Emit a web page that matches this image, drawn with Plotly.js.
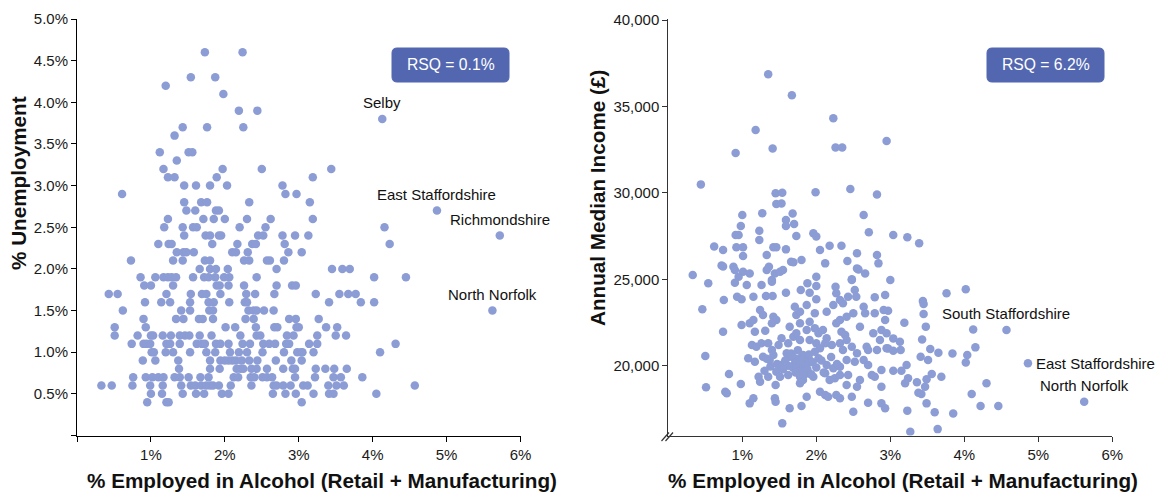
<!DOCTYPE html>
<html><head><meta charset="utf-8">
<script src="https://cdn.plot.ly/plotly-3.0.1.min.js"></script>
<style>html,body{margin:0;padding:0;background:#fff}#chart{width:1165px;height:494px}</style>
</head><body><div id="chart"></div>
<script>
// ---------- DATA ----------
// Left chart: % employed in alcohol (x) vs % unemployment (y)
const unempX = [
1.73,2.24, 1.54,1.87, 1.20, 1.98, 2.19,2.44, 1.43,1.76,2.25, 1.32, 1.12,1.51,1.56, 1.35,
1.17,1.97,2.50,3.44, 1.23,1.32,1.89,3.19, 1.45,1.61,1.80,2.03,2.78, 0.61,2.82,2.97,
1.45,1.68,1.76,2.33,3.15, 1.48,1.60,1.88,1.92,
1.23,1.71,1.85,2.00,2.30,2.62,3.19,
1.18,1.43,1.57,1.62,2.20,2.55,4.16,
1.45,1.74,1.80,1.92,1.95,2.45,2.52,2.78,2.95,3.13,
1.10,1.24,1.28,1.83,2.17,2.37,2.42,2.81,4.23,
1.35,1.44,1.48,1.58,2.10,2.15,2.31,2.86,3.04,
0.73,1.30,1.43,1.73,1.80,2.26,2.33,2.57,2.61,2.80,
1.66,1.80,1.88,2.04,2.70,3.45,3.59,3.69,
0.86,1.06,1.17,1.23,1.28,1.34,1.57,1.72,1.78,1.87,1.99,2.06,2.43,4.02,4.45,
0.91,1.00,1.30,1.89,1.93,2.05,2.26,2.70,2.91,2.96,
0.43,0.55,1.21,1.54,1.69,1.75,1.94,2.29,2.41,2.67,3.23,3.55,3.67,3.77,
0.92,1.14,1.26,1.53,1.78,1.85,2.06,2.27,2.30,3.41,3.84,4.02,
0.62,1.41,1.53,1.79,1.84,2.32,2.39,2.43,2.53,2.66,
0.90,1.34,1.44,1.65,1.70,1.84,2.28,2.39,2.87,2.96,3.27,
0.51,0.93,2.01,2.14,2.42,2.67,2.71,2.97,3.00,3.37,3.52,
0.51,0.82,1.00,1.03,1.16,1.27,1.39,1.46,1.52,1.66,1.82,2.21,2.43,2.48,2.84,2.93,3.25,3.50,3.64,
0.74,0.90,0.94,0.99,1.21,1.26,1.39,1.62,1.69,1.73,1.88,1.94,2.05,2.24,2.34,2.52,2.60,2.68,2.83,2.87,3.14,3.25,4.31,
1.01,1.04,1.20,1.30,1.53,1.75,1.87,2.07,2.19,2.30,2.51,2.80,2.98,3.03,3.05,3.20,4.10,
0.89,1.06,1.37,1.80,1.94,2.00,2.05,2.10,2.15,2.23,2.33,2.44,2.69,2.90,3.04,
1.38,1.80,1.93,2.16,2.21,2.25,2.36,2.43,2.57,2.79,2.92,2.95,3.23,3.36,3.48,3.65,
0.76,0.93,1.02,1.10,1.17,1.32,1.39,1.51,1.67,1.78,2.12,2.18,2.35,2.40,2.51,2.57,2.64,2.95,3.22,3.47,3.57,3.86,
0.33,0.47,0.75,0.99,1.16,1.41,1.54,1.60,1.68,1.75,1.80,1.84,1.92,2.08,2.36,2.66,2.70,2.79,2.89,3.06,3.12,3.40,3.51,3.61,4.57,
1.00,1.15,1.43,1.61,1.72,1.96,2.05,2.65,2.82,2.96,3.20,3.41,3.47,4.05,
0.95,1.21,1.24,3.04
];
const unempY = [
4.6,4.6, 4.3,4.3, 4.2, 4.1, 3.9,3.9, 3.7,3.7,3.7, 3.6, 3.4,3.4,3.4, 3.3,
3.2,3.2,3.2,3.2, 3.1,3.1,3.1,3.1, 3.0,3.0,3.0,3.0,3.0, 2.9,2.9,2.9,
2.8,2.8,2.8,2.8,2.8, 2.7,2.7,2.7,2.7,
2.6,2.6,2.6,2.6,2.6,2.6,2.6,
2.5,2.5,2.5,2.5,2.5,2.5,2.5,
2.4,2.4,2.4,2.4,2.4,2.4,2.4,2.4,2.4,2.4,
2.3,2.3,2.3,2.3,2.3,2.3,2.3,2.3,2.3,
2.2,2.2,2.2,2.2,2.2,2.2,2.2,2.2,2.2,
2.1,2.1,2.1,2.1,2.1,2.1,2.1,2.1,2.1,2.1,
2.0,2.0,2.0,2.0,2.0,2.0,2.0,2.0,
1.9,1.9,1.9,1.9,1.9,1.9,1.9,1.9,1.9,1.9,1.9,1.9,1.9,1.9,1.9,
1.8,1.8,1.8,1.8,1.8,1.8,1.8,1.8,1.8,1.8,
1.7,1.7,1.7,1.7,1.7,1.7,1.7,1.7,1.7,1.7,1.7,1.7,1.7,1.7,
1.6,1.6,1.6,1.6,1.6,1.6,1.6,1.6,1.6,1.6,1.6,1.6,
1.5,1.5,1.5,1.5,1.5,1.5,1.5,1.5,1.5,1.5,
1.4,1.4,1.4,1.4,1.4,1.4,1.4,1.4,1.4,1.4,1.4,
1.3,1.3,1.3,1.3,1.3,1.3,1.3,1.3,1.3,1.3,1.3,
1.2,1.2,1.2,1.2,1.2,1.2,1.2,1.2,1.2,1.2,1.2,1.2,1.2,1.2,1.2,1.2,1.2,1.2,1.2,
1.1,1.1,1.1,1.1,1.1,1.1,1.1,1.1,1.1,1.1,1.1,1.1,1.1,1.1,1.1,1.1,1.1,1.1,1.1,1.1,1.1,1.1,1.1,
1.0,1.0,1.0,1.0,1.0,1.0,1.0,1.0,1.0,1.0,1.0,1.0,1.0,1.0,1.0,1.0,1.0,
0.9,0.9,0.9,0.9,0.9,0.9,0.9,0.9,0.9,0.9,0.9,0.9,0.9,0.9,0.9,
0.8,0.8,0.8,0.8,0.8,0.8,0.8,0.8,0.8,0.8,0.8,0.8,0.8,0.8,0.8,0.8,
0.7,0.7,0.7,0.7,0.7,0.7,0.7,0.7,0.7,0.7,0.7,0.7,0.7,0.7,0.7,0.7,0.7,0.7,0.7,0.7,0.7,0.7,
0.6,0.6,0.6,0.6,0.6,0.6,0.6,0.6,0.6,0.6,0.6,0.6,0.6,0.6,0.6,0.6,0.6,0.6,0.6,0.6,0.6,0.6,0.6,0.6,0.6,
0.5,0.5,0.5,0.5,0.5,0.5,0.5,0.5,0.5,0.5,0.5,0.5,0.5,0.5,
0.4,0.4,0.4,0.4
];
const unempLabelNames = ["Selby", "East Staffordshire", "Richmondshire", "North Norfolk"];
const unempLabelX = [4.13, 4.87, 5.72, 5.62];
const unempLabelY = [3.8, 2.7, 2.4, 1.5];

// Right chart: % employed in alcohol (x) vs annual median income (y)
const incomeX = [
1.35,1.67,2.23,1.18,0.91,1.41,2.26,2.35,0.44,1.45,
1.54,1.99,2.46,2.82,1.46,1.53,1.00,1.27,1.68,2.64,
1.59,1.59,1.70,0.98,2.71,1.23,0.91,0.95,1.73,1.96,
2.00,1.23,0.62,0.74,0.92,1.01,1.42,1.46,1.59,2.05,
2.18,2.34,2.95,1.01,1.33,2.55,2.12,2.42,2.82,0.33,
0.72,0.74,0.88,0.90,1.01,1.10,0.95,1.33,1.36,1.40,
1.44,1.51,1.55,1.66,1.69,1.80,2.00,2.55,2.57,2.48,
2.66,3.04,3.23,3.39,2.84,3.00,3.76,4.02,3.44,3.45,
3.45,3.48,2.97,3.04,3.13,2.97,3.04,3.14,3.19,3.43,
3.54,3.65,3.41,3.51,3.84,4.04,4.02,4.12,4.15,3.22,
3.15,3.04,3.24,3.20,3.36,3.47,3.56,3.69,3.49,3.38,
3.42,3.23,3.49,3.60,3.85,4.10,4.22,4.46,4.30,3.27,
3.64,
0.54,0.90,1.06,1.26,1.40,1.88,2.00,2.26,2.48,
0.93,0.99,1.15,1.32,1.41,1.59,1.79,1.91,2.00,2.27,2.32,2.43,2.52,2.54,2.79,2.93,
0.46,0.75,1.24,1.28,1.42,1.46,1.71,1.73,1.78,1.87,1.98,2.14,2.23,2.36,2.41,2.50,2.64,2.66,2.79,2.91,2.93,
0.99,1.10,1.15,1.17,1.31,1.40,1.64,1.78,1.87,1.91,1.98,2.03,2.09,2.14,2.27,2.32,2.34,2.39,2.59,2.77,2.88,2.95,
0.74,1.13,1.19,1.26,1.35,1.40,1.49,1.53,1.62,1.69,1.73,1.78,1.91,2.00,2.05,2.21,2.32,2.36,2.41,2.48,2.55,2.68,2.70,2.82,2.86,2.95,
0.50,1.08,1.17,1.28,1.37,1.42,1.51,1.60,1.64,1.71,1.78,1.82,1.87,1.91,2.03,2.14,2.23,2.32,2.41,2.52,2.64,2.70,
0.82,1.22,1.24,1.35,1.46,1.51,1.62,1.73,1.78,1.82,1.89,1.96,2.12,2.18,2.25,2.32,2.43,2.59,2.75,2.79,2.88,
0.51,0.77,0.79,0.98,1.45,1.78,1.82,2.05,2.12,2.16,2.27,2.32,2.41,2.55,2.88,
1.10,1.15,1.44,1.45,1.64,1.80,1.87,2.48,2.50,2.70,2.88,2.93,1.54,
1.66,1.70,1.74,1.77,1.80,1.84,1.86,1.88,1.90,1.93,
1.68,1.72,1.75,1.83,1.79,1.95,1.62,1.58,1.55,1.47,
1.38,1.33,1.30,2.00,2.07,2.10,1.98,2.20,2.28,2.12
];
const incomeY = [
36860,35640,34310,33640,32310,32560,32620,32620,30490,29970,
30010,30030,30220,29910,29360,29390,28720,28820,28800,28720,
28430,28080,28200,28080,27720,27810,27560,27560,27500,27660,
27470,27270,26890,26690,26850,26850,26850,26850,26730,26690,
26940,26940,33000,26350,26400,26500,25920,26060,26400,25250,
25800,25740,25730,25540,25440,25340,25150,25540,25730,24960,
25340,25440,25540,26020,25980,26110,25150,25630,25560,25000,
25340,27560,27430,27080,25920,24960,24190,24420,23740,23570,
22990,22260,23180,21580,21390,21000,20870,20910,22490,21520,
20970,20750,20520,20330,20710,20620,20190,22100,21060,20040,
19710,19710,19270,18980,19040,18780,19520,19360,19210,18440,
18360,17400,17820,17300,17240,18360,17670,17670,18980,16180,
16330,
24765,24803,24668,24668,24861,24765,24610,24572,24958,
23993,23839,23993,24032,24032,24225,24379,24225,23839,24186,23800,23993,24379,23993,23954,24089,
23260,23800,23221,22932,22836,22643,23414,22932,23125,23511,23028,23125,23511,23607,22836,23028,23414,23028,23028,23221,22643,
22353,22450,22643,21968,22025,22450,22257,22450,22064,22546,22160,21871,22064,21582,22450,22643,21968,21775,22257,21871,22064,21871,
21968,21196,21100,21292,21292,20907,21196,21582,21292,21678,21871,21485,21485,21292,21003,21196,21292,20907,21485,21100,20714,21100,20907,20907,21485,21003,
20559,20424,20231,20521,20328,20617,20039,20714,20521,20135,20424,20617,20231,20328,20424,20039,19846,19942,20328,20231,20328,20039,
19518,19363,19074,19363,19653,19363,19460,19749,19363,19846,19556,19363,19556,19171,19267,19460,19460,19171,19460,19363,19749,
18746,18495,18399,18939,18881,18978,19171,18495,18302,18206,18302,18110,18881,18785,18785,
17820,18110,18110,17917,17531,17666,18206,18206,17338,17859,17820,17531,16663,
20700,20450,20200,19950,19700,20550,20000,19800,20650,19500,
19900,19600,20900,19450,20300,20200,20000,20300,19800,20100,
19950,20400,19700,19900,20300,19600,20800,20500,20100,21300
];
const incomeLabelNames = ["South Staffordshire", "East Staffordshire", "North Norfolk"];
const incomeLabelX = [4.57, 4.86, 5.62];
const incomeLabelY = [22060, 20140, 17920];

const rsqLeftText = "RSQ = 0.1%";
const rsqRightText = "RSQ = 6.2%";

const pctTickVals = [0, 1, 2, 3, 4, 5, 6];
const pctTickText = ["", "1%", "2%", "3%", "4%", "5%", "6%"];
const pctTickVals2 = [1, 2, 3, 4, 5, 6];
const pctTickText2 = ["1%", "2%", "3%", "4%", "5%", "6%"];
const unempTickVals = [0, 0.5, 1, 1.5, 2, 2.5, 3, 3.5, 4, 4.5, 5];
const unempTickText = ["", "0.5%", "1.0%", "1.5%", "2.0%", "2.5%", "3.0%", "3.5%", "4.0%", "4.5%", "5.0%"];
const incomeTickVals = [20000, 25000, 30000, 35000, 40000];
const incomeTickText = ["20,000", "25,000", "30,000", "35,000", "40,000"];

const xTitle = "% Employed in Alcohol (Retail + Manufacturing)";
const yTitleLeft = "% Unemployment";
const yTitleRight = "Annual Median Income (£)";

// ---------- LAYOUT HELPERS ----------
const W = 1165, H = 494;
const fx = p => p / W;
const fy = p => 1 - p / H;
const FONT = "Liberation Sans, Arial, Helvetica, sans-serif";
const DOT = "#8c9cd5";
const BOX = "#5367b1";

function roundRect(x0, y0, x1, y1, r) {
  const rx = r / W, ry = r / H;
  const X0 = fx(x0), X1 = fx(x1), Yt = fy(y0), Yb = fy(y1);
  return `M${X0 + rx},${Yt} L${X1 - rx},${Yt} Q${X1},${Yt} ${X1},${Yt - ry} ` +
         `L${X1},${Yb + ry} Q${X1},${Yb} ${X1 - rx},${Yb} L${X0 + rx},${Yb} ` +
         `Q${X0},${Yb} ${X0},${Yb + ry} L${X0},${Yt - ry} Q${X0},${Yt} ${X0 + rx},${Yt} Z`;
}

const traces = [
  { type: "scatter", mode: "markers", xaxis: "x", yaxis: "y",
    x: unempX.concat(unempLabelX), y: unempY.concat(unempLabelY),
    marker: { size: 8.5, color: DOT, line: { width: 0 } }, hoverinfo: "skip" },
  { type: "scatter", mode: "markers", xaxis: "x2", yaxis: "y2",
    x: incomeX.concat(incomeLabelX), y: incomeY.concat(incomeLabelY),
    marker: { size: 8.5, color: DOT, line: { width: 0 } }, hoverinfo: "skip" }
];

const axisCommon = {
  showline: true, linewidth: 1, ticks: "outside", ticklen: 5, tickwidth: 1,
  showgrid: false, zeroline: false, fixedrange: true,
  tickfont: { family: FONT, size: 15, color: "#1a1a1a" }
};

const annotations = [];
unempLabelNames.forEach((n, i) => {
  annotations.push({ xref: "x", yref: "y", x: unempLabelX[i], y: unempLabelY[i], text: n,
    showarrow: false, xanchor: "center", yanchor: "bottom", yshift: 6,
    font: { family: FONT, size: 15, color: "#111" } });
});
incomeLabelNames.forEach((n, i) => {
  const right = n === "East Staffordshire";
  annotations.push({ xref: "x2", yref: "y2", x: incomeLabelX[i], y: incomeLabelY[i], text: n,
    showarrow: false, xanchor: right ? "left" : "center", yanchor: right ? "middle" : "bottom",
    xshift: right ? 6 : 0, yshift: right ? 0 : 6,
    font: { family: FONT, size: 15, color: "#111" } });
});
const TF = { family: FONT, size: 20.7, color: "#111" };
annotations.push({ xref: "paper", yref: "paper", x: fx(322), y: fy(480), text: "<b>" + xTitle + "</b>",
  showarrow: false, xanchor: "center", yanchor: "middle", font: TF });
annotations.push({ xref: "paper", yref: "paper", x: fx(903), y: fy(480), text: "<b>" + xTitle + "</b>",
  showarrow: false, xanchor: "center", yanchor: "middle", font: TF });
annotations.push({ xref: "paper", yref: "paper", x: fx(18), y: fy(183), text: "<b>" + yTitleLeft + "</b>",
  textangle: -90, showarrow: false, xanchor: "center", yanchor: "middle", font: TF });
annotations.push({ xref: "paper", yref: "paper", x: fx(597), y: fy(198), text: "<b>" + yTitleRight + "</b>",
  textangle: -90, showarrow: false, xanchor: "center", yanchor: "middle", font: TF });
annotations.push({ xref: "paper", yref: "paper", x: fx(450.5), y: fy(65), text: rsqLeftText,
  showarrow: false, xanchor: "center", yanchor: "middle", font: { family: FONT, size: 15.7, color: "#ffffff" } });
annotations.push({ xref: "paper", yref: "paper", x: fx(1045.5), y: fy(65), text: rsqRightText,
  showarrow: false, xanchor: "center", yanchor: "middle", font: { family: FONT, size: 15.7, color: "#ffffff" } });

const shapes = [
  { type: "path", xref: "paper", yref: "paper", path: roundRect(392, 48, 509, 82, 5),
    fillcolor: BOX, line: { color: BOX, width: 1 }, layer: "above" },
  { type: "path", xref: "paper", yref: "paper", path: roundRect(987, 48, 1104, 82, 5),
    fillcolor: BOX, line: { color: BOX, width: 1 }, layer: "above" },
  { type: "line", xref: "paper", yref: "paper", x0: fx(661.5), y0: fy(441), x1: fx(669), y1: fy(432.5),
    line: { color: "#333", width: 1.2 } },
  { type: "line", xref: "paper", yref: "paper", x0: fx(665.5), y0: fy(441), x1: fx(673), y1: fy(432.5),
    line: { color: "#333", width: 1.2 } }
];

const yDom = [fy(435.5), fy(19)];
const layout = {
  width: W, height: H, margin: { l: 0, r: 0, t: 0, b: 0 },
  paper_bgcolor: "#ffffff", plot_bgcolor: "#ffffff", showlegend: false,
  font: { family: FONT },
  xaxis: Object.assign({}, axisCommon, { domain: [fx(77), fx(520.5)], range: [0, 6], anchor: "y",
    tickvals: pctTickVals, ticktext: pctTickText, linecolor: "#000", tickcolor: "#000" }),
  yaxis: Object.assign({}, axisCommon, { domain: yDom, range: [0, 5], anchor: "x",
    tickvals: unempTickVals, ticktext: unempTickText, linecolor: "#000", tickcolor: "#000" }),
  xaxis2: Object.assign({}, axisCommon, { domain: [fx(668.3), fx(1112.3)], range: [0, 6], anchor: "y2",
    tickvals: pctTickVals2, ticktext: pctTickText2, linecolor: "#333", tickcolor: "#333" }),
  yaxis2: Object.assign({}, axisCommon, { domain: yDom, range: [15961, 40058], anchor: "x2",
    tickvals: incomeTickVals, ticktext: incomeTickText, linecolor: "#333", tickcolor: "#333" }),
  annotations: annotations,
  shapes: shapes
};

Plotly.newPlot("chart", traces, layout, { staticPlot: true, displayModeBar: false });
</script>
</body></html>
